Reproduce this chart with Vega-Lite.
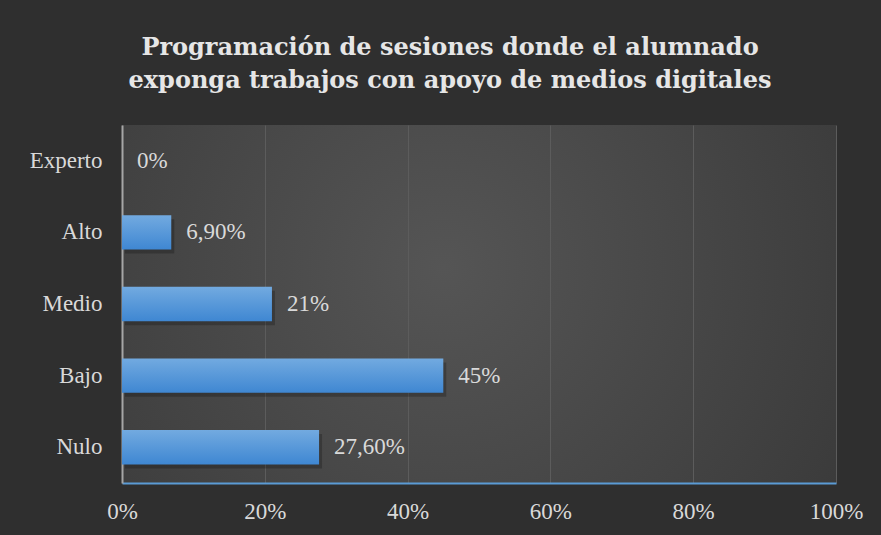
{
  "$schema": "https://vega.github.io/schema/vega-lite/v6.json",
  "width": 714,
  "height": 358,
  "autosize": {"type": "none"},
  "padding": {"left": 122, "top": 125, "right": 45, "bottom": 52},
  "background": "#2f2f2f",
  "title": {
    "text": ["Programación de sesiones donde el alumnado", "exponga trabajos con apoyo de medios digitales"],
    "font": "DejaVu Serif",
    "fontSize": 24,
    "fontWeight": "bold",
    "color": "#e6e6e6",
    "anchor": "middle",
    "frame": "group",
    "dx": -29,
    "offset": 32,
    "lineHeight": 33
  },
  "config": {
    "view": {
      "stroke": null,
      "fill": {
        "gradient": "radial",
        "x1": 0.45, "y1": 0.45, "r1": 0,
        "x2": 0.45, "y2": 0.45, "r2": 0.75,
        "stops": [{"offset": 0, "color": "#555555"}, {"offset": 1, "color": "#363636"}]
      }
    },
    "font": "Liberation Serif"
  },
  "data": {
    "values": [
      {"nivel": "Experto", "valor": 0, "etiqueta": "0%"},
      {"nivel": "Alto", "valor": 6.9, "etiqueta": "6,90%"},
      {"nivel": "Medio", "valor": 21, "etiqueta": "21%"},
      {"nivel": "Bajo", "valor": 45, "etiqueta": "45%"},
      {"nivel": "Nulo", "valor": 27.6, "etiqueta": "27,60%"}
    ]
  },
  "encoding": {
    "y": {
      "field": "nivel",
      "type": "nominal",
      "sort": ["Experto", "Alto", "Medio", "Bajo", "Nulo"],
      "scale": {"paddingInner": 0.52, "paddingOuter": 0.26},
      "axis": {
        "title": null,
        "labelFont": "Liberation Serif",
        "labelFontSize": 23,
        "labelColor": "#d9d9d9",
        "labelPadding": 20,
        "ticks": false,
        "domainColor": "#a6a6a6",
        "domainWidth": 2,
        "grid": false
      }
    },
    "x": {
      "field": "valor",
      "type": "quantitative",
      "scale": {"domain": [0, 100], "nice": false},
      "axis": {
        "title": null,
        "values": [0, 20, 40, 60, 80, 100],
        "labelExpr": "datum.value + '%'",
        "labelFlush": false,
        "labelFont": "Liberation Serif",
        "labelFontSize": 23,
        "labelColor": "#d9d9d9",
        "labelPadding": 17,
        "ticks": false,
        "domainColor": "#5b9bd5",
        "domainWidth": 2,
        "grid": true,
        "gridColor": "#5c5c5c",
        "gridWidth": 1
      }
    }
  },
  "layer": [
    {
      "mark": {"type": "bar", "color": "#000000", "opacity": 0.22, "xOffset": 3, "yOffset": 4},
      "encoding": {}
    },
    {
      "mark": {
        "type": "bar",
        "color": {
          "gradient": "linear",
          "x1": 0, "y1": 0, "x2": 0, "y2": 1,
          "stops": [{"offset": 0, "color": "#72aae0"}, {"offset": 1, "color": "#3f87d2"}]
        }
      },
      "encoding": {}
    },
    {
      "mark": {
        "type": "text",
        "align": "left",
        "baseline": "middle",
        "dx": 15,
        "font": "Liberation Serif",
        "fontSize": 23,
        "color": "#d9d9d9"
      },
      "encoding": {"text": {"field": "etiqueta"}}
    }
  ]
}
